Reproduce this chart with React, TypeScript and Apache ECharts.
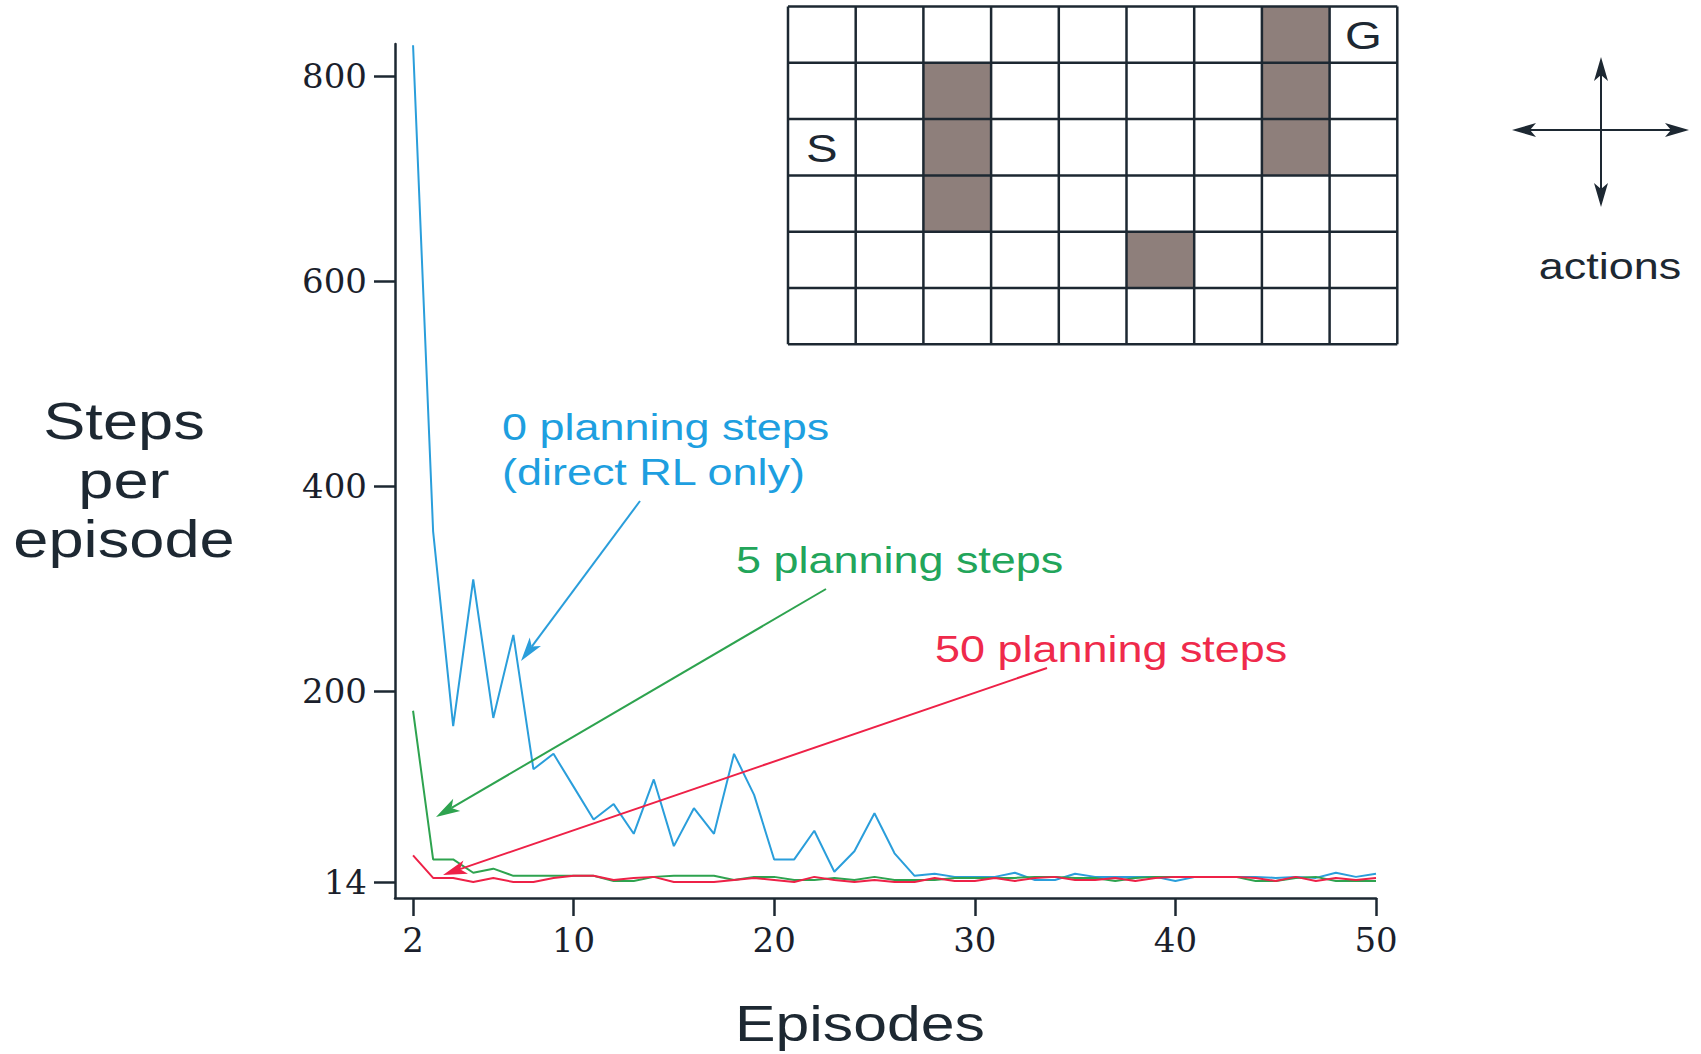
import React, { useEffect, useRef } from "react";
import * as echarts from "echarts";

// ---- data ----
const episodes = [
  2, 3, 4, 5, 6, 7, 8, 9, 10, 11, 12, 13, 14, 15, 16, 17, 18, 19, 20, 21, 22, 23, 24, 25, 26,
  27, 28, 29, 30, 31, 32, 33, 34, 35, 36, 37, 38, 39, 40, 41, 42, 43, 44, 45, 46, 47, 48, 49, 50,
];
const planning0 = [
  830, 356, 166, 309, 174, 255, 124, 139, 107, 75,
  90, 61, 114, 49, 86, 61, 139, 99, 36, 36,
  64, 24, 44, 81, 42, 20, 22, 19, 19, 19,
  23, 16, 16, 22, 19, 19, 19, 19, 15, 19,
  19, 19, 19, 18, 19, 18, 23, 19, 22,
];
const planning5 = [
  181, 36, 36, 23, 27, 20, 20, 20, 20, 20,
  15, 15, 19, 20, 20, 20, 16, 19, 19, 16,
  16, 18, 16, 19, 16, 16, 16, 18, 18, 18,
  18, 19, 19, 18, 18, 15, 18, 19, 19, 19,
  19, 19, 15, 15, 18, 19, 15, 15, 15,
];
const planning50 = [
  40, 18, 18, 14, 18, 14, 14, 18, 20, 20,
  16, 18, 19, 14, 14, 14, 16, 18, 16, 14,
  19, 16, 14, 16, 14, 14, 18, 15, 15, 18,
  15, 18, 19, 16, 16, 18, 15, 18, 19, 19,
  19, 19, 18, 15, 19, 15, 18, 16, 18,
];
const yTicks = [14, 200, 400, 600, 800];
const xTicks = [2, 10, 20, 30, 40, 50];
const seriesNames = ["0 planning steps", "5 planning steps", "50 planning steps"];

// maze
const mazeCols = 9;
const mazeRows = 6;
const mazeWalls = [
  [2, 1], [2, 2], [2, 3],
  [7, 0], [7, 1], [7, 2],
  [5, 4],
];
const mazeStart = [0, 2];
const mazeGoal = [8, 0];

const DARK = "#1d2832";
const BLUE = "#2a9edb";
const GREEN = "#2ea34f";
const RED = "#ee2147";
const SANS = "Liberation Sans, Arial, Helvetica, sans-serif";
const STRETCH = 1.215;

function arrow(x1: number, y1: number, x2: number, y2: number, color: string) {
  const dx = x2 - x1;
  const dy = y2 - y1;
  const L = Math.hypot(dx, dy);
  const ux = dx / L;
  const uy = dy / L;
  const headLen = 24;
  const headW = 7;
  const bx = x2 - ux * headLen;
  const by = y2 - uy * headLen;
  const px = -uy;
  const py = ux;
  const nx = x2 - ux * headLen * 0.75;
  const ny = y2 - uy * headLen * 0.75;
  return [
    {
      type: "line",
      shape: { x1, y1, x2: nx, y2: ny },
      style: { stroke: color, lineWidth: 2 },
      z: 10,
    },
    {
      type: "polygon",
      shape: {
        points: [
          [x2, y2],
          [bx + px * headW, by + py * headW],
          [nx, ny],
          [bx - px * headW, by - py * headW],
        ],
      },
      style: { fill: color },
      z: 10,
    },
  ];
}

function stretchedText(
  text: string,
  x: number,
  y: number,
  size: number,
  color: string,
  align: string = "left",
  lineHeight?: number
) {
  return {
    type: "text",
    x,
    y,
    scaleX: STRETCH,
    z: 20,
    style: {
      text,
      fill: color,
      fontSize: size,
      fontFamily: SANS,
      align,
      verticalAlign: "middle",
      lineHeight: lineHeight || size * 1.15,
    },
  };
}

export default function App() {
  const ref = useRef<HTMLDivElement>(null);

  useEffect(() => {
    if (!ref.current) return;
    const chart = echarts.init(ref.current, undefined, { renderer: "svg" });

    // maze graphics
    const gLeft = 788;
    const gTop = 6.5;
    const cw = 67.7;
    const ch = 56.3;
    const maze: any[] = [];
    mazeWalls.forEach(([c, r]) => {
      maze.push({
        type: "rect",
        shape: { x: gLeft + c * cw, y: gTop + r * ch, width: cw, height: ch },
        style: { fill: "#8e7f7b" },
        z: 5,
      });
    });
    for (let i = 0; i <= mazeCols; i++) {
      maze.push({
        type: "line",
        shape: { x1: gLeft + i * cw, y1: gTop, x2: gLeft + i * cw, y2: gTop + mazeRows * ch },
        style: { stroke: DARK, lineWidth: 2.5 },
        z: 6,
      });
    }
    for (let j = 0; j <= mazeRows; j++) {
      maze.push({
        type: "line",
        shape: { x1: gLeft, y1: gTop + j * ch, x2: gLeft + mazeCols * cw, y2: gTop + j * ch },
        style: { stroke: DARK, lineWidth: 2.5 },
        z: 6,
      });
    }
    maze.push(
      stretchedText("S", gLeft + (mazeStart[0] + 0.5) * cw, gTop + (mazeStart[1] + 0.5) * ch + 1, 39, DARK, "center")
    );
    maze.push(
      stretchedText("G", gLeft + (mazeGoal[0] + 0.5) * cw, gTop + (mazeGoal[1] + 0.5) * ch + 1, 39, DARK, "center")
    );

    // actions cross
    const cx = 1601;
    const cy = 130;
    const cross: any[] = [
      ...arrow(cx, cy, 1512, cy, DARK),
      ...arrow(cx, cy, 1689, cy, DARK),
      ...arrow(cx, cy, cx, 57, DARK),
      ...arrow(cx, cy, cx, 207, DARK),
      stretchedText("actions", 1610, 266, 37, DARK, "center"),
    ];

    const annotations: any[] = [
      stretchedText(seriesNames[0], 502, 427, 37, "#1e9fe0"),
      stretchedText("(direct RL only)", 502, 472, 37, "#1e9fe0"),
      stretchedText(seriesNames[1], 736, 560, 37, "#22a55a"),
      stretchedText(seriesNames[2], 935, 649, 37, "#ef2a4b"),
      ...arrow(640, 501, 521, 661, BLUE),
      ...arrow(826, 589, 436, 817, GREEN),
      ...arrow(1047, 668, 443, 875, RED),
      stretchedText("Steps\nper\nepisode", 124, 480, 52, DARK, "center", 59),
      stretchedText("Episodes", 860, 1024, 50, DARK, "center"),
    ];

    const mk = (vals: number[]) => episodes.map((e, i) => [e, vals[i]]);
    const lineSeries = (name: string, vals: number[], color: string, z: number) => ({
      name,
      type: "line",
      data: mk(vals),
      showSymbol: false,
      symbol: "none",
      clip: true,
      z,
      lineStyle: { color, width: 2 },
      itemStyle: { color },
    });

    const axisFont = {
      fontFamily: "DejaVu Serif, Liberation Serif, serif",
      fontSize: 34,
      color: "#1b1f2c",
    };

    chart.setOption({
      animation: false,
      backgroundColor: "#ffffff",
      grid: { left: 395, right: 325, top: 44, bottom: 156 },
      xAxis: {
        type: "value",
        min: 1.1,
        max: 50,
        axisLine: { show: true, onZero: false, lineStyle: { color: DARK, width: 2.5 } },
        axisTick: { show: true, length: 18, customValues: xTicks, lineStyle: { color: DARK, width: 2.5 } },
        axisLabel: { show: true, customValues: xTicks, margin: 25, ...axisFont },
        splitLine: { show: false },
      },
      yAxis: {
        type: "value",
        min: -1.6,
        max: 831.2,
        axisLine: { show: true, onZero: false, lineStyle: { color: DARK, width: 2.5 } },
        axisTick: { show: true, length: 21, customValues: yTicks, lineStyle: { color: DARK, width: 2.5 } },
        axisLabel: { show: true, customValues: yTicks, margin: 28, ...axisFont },
        splitLine: { show: false },
      },
      series: [
        lineSeries(seriesNames[0], planning0, BLUE, 2),
        lineSeries(seriesNames[1], planning5, GREEN, 3),
        lineSeries(seriesNames[2], planning50, RED, 4),
      ],
      graphic: { elements: [...maze, ...cross, ...annotations] },
    });

    return () => chart.dispose();
  }, []);

  return (
    <div
      ref={ref}
      style={{ position: "fixed", left: 0, top: 0, width: 1701, height: 1054, background: "#fff" }}
    />
  );
}
